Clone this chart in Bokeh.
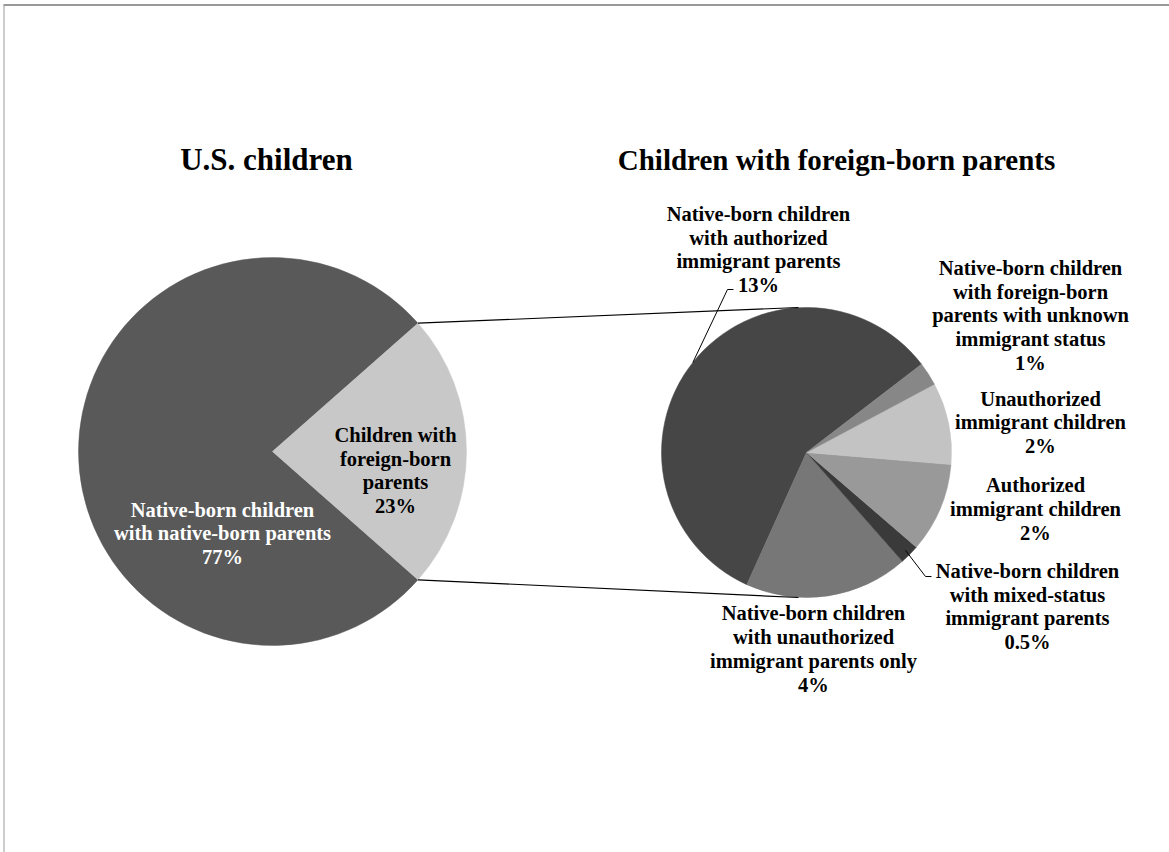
import math
from bokeh.plotting import figure
from bokeh.models import Range1d
from bokeh.core.properties import value
from bokeh.embed import file_html
from bokeh.resources import INLINE

# ---------------- data ----------------
left_categories = ["Native-born children\nwith native-born parents\n77%",
                   "Children with\nforeign-born\nparents\n23%"]
left_values = [77, 23]
left_colors = ["#595959", "#c8c8c8"]
left_text_colors = ["#ffffff", "#000000"]

right_categories = [
    "Native-born children\nwith authorized\nimmigrant parents\n13%",
    "Native-born children\nwith unauthorized\nimmigrant parents only\n4%",
    "Native-born children\nwith mixed-status\nimmigrant parents\n0.5%",
    "Authorized\nimmigrant children\n2%",
    "Unauthorized\nimmigrant children\n2%",
    "Native-born children\nwith foreign-born\nparents with unknown\nimmigrant status\n1%",
]
right_values = [13.3, 4.2, 0.5, 2.3, 2.1, 0.6]
right_colors = ["#464646", "#777777", "#3a3a3a", "#999999", "#c3c3c3", "#878787"]

titles = ["U.S. children", "Children with foreign-born parents"]

# ---------------- layout ----------------
W, H = 1169, 852
def X(px):
    return px
def Y(py):
    return H - py

p = figure(width=W, height=H, output_backend="svg", toolbar_location=None,
           x_range=Range1d(0, W), y_range=Range1d(0, H), min_border=0,
           background_fill_color="white", border_fill_color="white")
p.axis.visible = False
p.grid.visible = False
p.outline_line_color = None

# frame lines
p.segment(x0=[X(3), X(3.5)], y0=[Y(4.5), Y(4.5)], x1=[W, X(3.5)], y1=[Y(4.5), 0],
          line_color="#999999", line_width=[2, 1])

# left pie
lcx, lcy, lr = X(272), Y(451), 194
half = math.pi * left_values[1] / sum(left_values)
l_start = [half, -half]
l_end = [2 * math.pi - half, half]
p.wedge(x=[lcx, lcx], y=[lcy, lcy], radius=lr, start_angle=l_start, end_angle=l_end,
        fill_color=left_colors, line_color=left_colors, line_width=0.5)

# right pie
rcx, rcy, rr = X(806), Y(452), 145
rtot = sum(right_values)
a = math.radians(37.5)
r_start, r_end = [], []
for v in right_values:
    r_start.append(a)
    a += 2 * math.pi * v / rtot
    r_end.append(a)
p.wedge(x=[rcx] * len(right_values), y=[rcy] * len(right_values), radius=rr,
        start_angle=r_start, end_angle=r_end,
        fill_color=right_colors, line_color=right_colors, line_width=0.5)

# connector lines from left slice edges to top/bottom of right pie
ux, uy = lcx + lr * math.cos(half), lcy + lr * math.sin(half)
bx, by = lcx + lr * math.cos(-half), lcy + lr * math.sin(-half)
p.segment(x0=[ux, bx], y0=[uy, by], x1=[rcx - 8, rcx - 8], y1=[rcy + rr, rcy - rr],
          line_color="black", line_width=1.2)

# leader lines
mid_big = (r_start[0] + r_end[0]) / 2
mid_mixed = (r_start[2] + r_end[2]) / 2
p.line(x=[rcx + rr * math.cos(mid_big), X(727), X(733)],
       y=[rcy + rr * math.sin(mid_big), Y(289), Y(289)], line_color="black", line_width=1)
p.line(x=[rcx + rr * 0.96 * math.cos(mid_mixed), X(925), X(931)],
       y=[rcy + rr * 0.96 * math.sin(mid_mixed), Y(576), Y(576)], line_color="black", line_width=1)

serif = value("Liberation Serif")

# titles
p.text(x=[X(266)], y=[Y(159)], text=titles[:1], text_font=serif,
       text_font_style="bold", text_font_size="31px", text_align="center",
       text_baseline="middle", text_color="black")
p.text(x=[X(836)], y=[Y(159)], text=titles[1:], text_font=serif,
       text_font_style="bold", text_font_size="29px", text_align="center",
       text_baseline="middle", text_color="black")

LH = 1.08
# left labels
p.text(x=[X(222), X(395)], y=[Y(533), Y(470)], text=left_categories, text_font=serif,
       text_font_style="bold", text_font_size="20.5px", text_align="center",
       text_baseline="middle", text_line_height=LH, text_color=left_text_colors)

# right labels
rlx = [X(758), X(813), X(1027), X(1035), X(1040), X(1030)]
rly = [Y(249), Y(648.5), Y(606), Y(508.5), Y(422), Y(315)]
p.text(x=rlx, y=rly, text=right_categories, text_font=serif,
       text_font_style="bold", text_font_size="20.5px", text_align="center",
       text_baseline="middle", text_line_height=LH, text_color="black")

open("out.html", "w").write(file_html(p, INLINE))
